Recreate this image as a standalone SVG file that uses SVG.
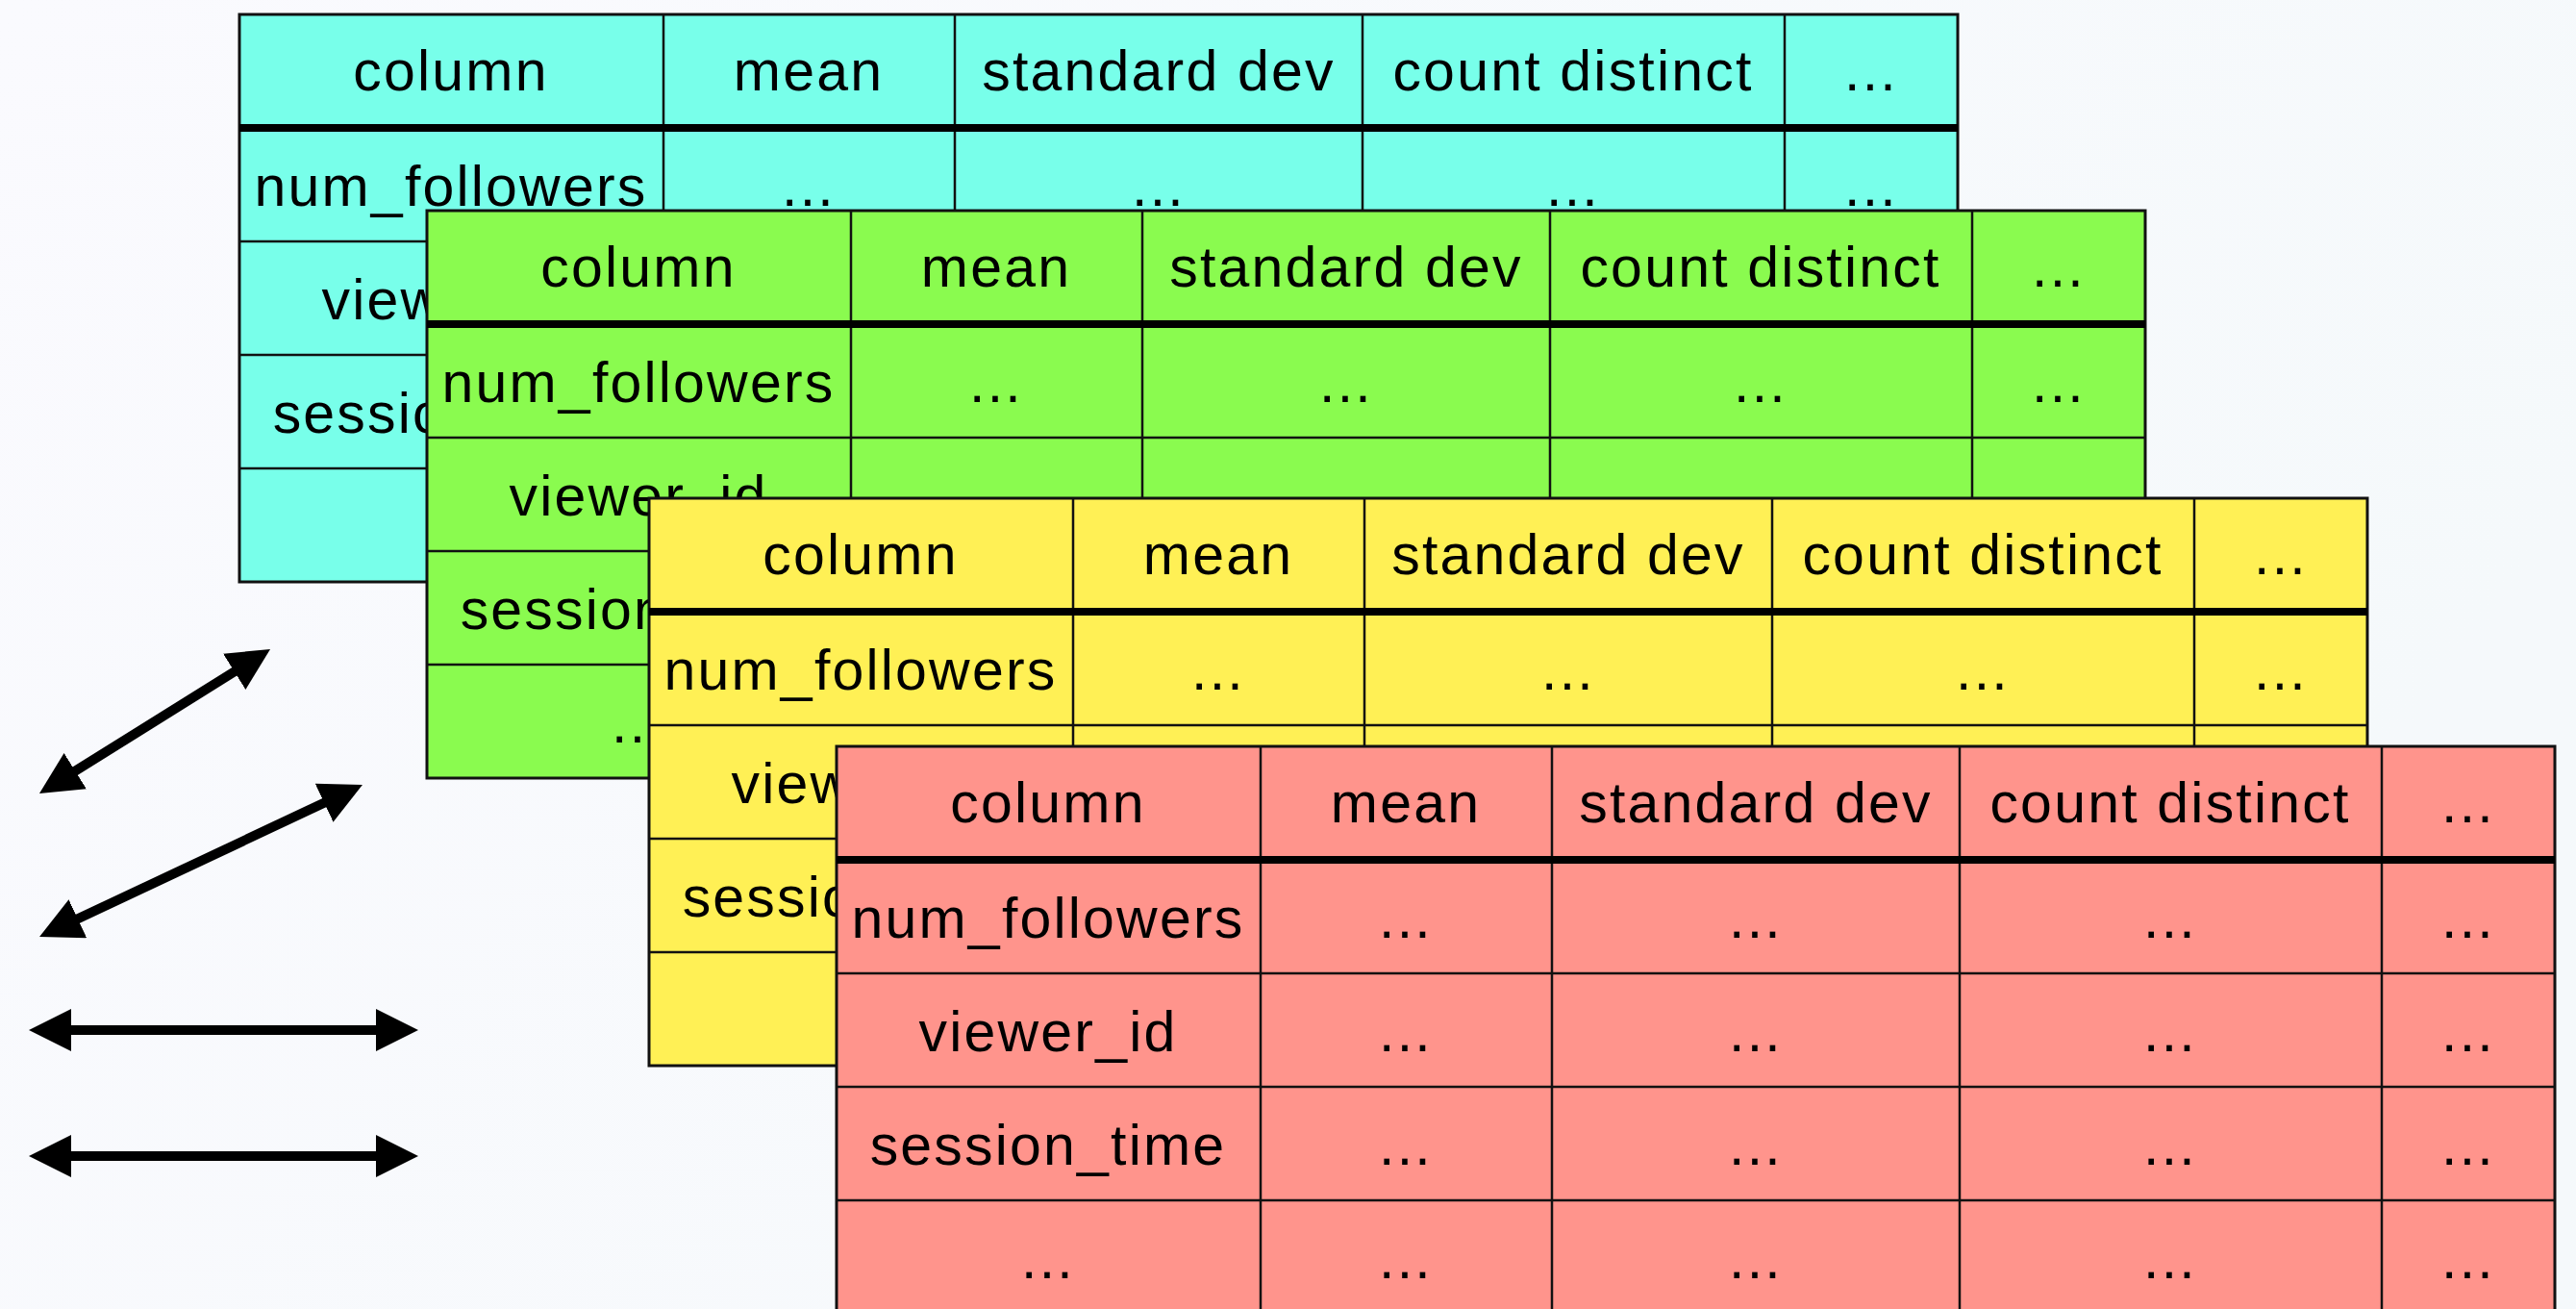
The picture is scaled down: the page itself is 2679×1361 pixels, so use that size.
<svg xmlns="http://www.w3.org/2000/svg" width="2679" height="1361" viewBox="0 0 2679 1361">
  <defs>
    <linearGradient id="bg" x1="0" y1="0" x2="1" y2="0.4">
      <stop offset="0" stop-color="#FAFAFE"/>
      <stop offset="1" stop-color="#F5F9FB"/>
    </linearGradient>
    <marker id="head" viewBox="0 0 44 44" markerUnits="userSpaceOnUse" markerWidth="44" markerHeight="44" refX="14" refY="22" orient="auto-start-reverse">
      <path d="M0 0L44 22L0 44Z" fill="#000"/>
    </marker>
    <style>
      .frame { stroke: #111; stroke-width: 3; }
      .grid { fill: none; stroke: #111; stroke-width: 2.5; }
      .rule { fill: none; stroke: #000; stroke-width: 8; }
      .t1 { fill: #78FFEA; }
      .t2 { fill: #8AFB4F; }
      .t3 { fill: #FFF055; }
      .t4 { fill: #FF948C; }
      text { font-family: "Liberation Sans", Arial, sans-serif; font-size: 59px; letter-spacing: 2.2px; text-anchor: middle; fill: #000; }
      .arrow { fill: none; stroke: #000; stroke-width: 10; marker-start: url(#head); marker-end: url(#head); }
    </style>
  </defs>

  <rect width="2679" height="1361" fill="url(#bg)"/>

  <!-- stats table, cyan (back); cells under the green table are left out -->
  <g id="table-cyan" transform="translate(249,15)">
    <rect class="frame t1" x="0" y="0" width="1787" height="590"/>
    <path class="grid" d="M441 0V590M744 0V590M1168 0V590M1607 0V590M0 236H1787M0 354H1787M0 472H1787"/>
    <path class="rule" d="M0 118H1787"/>
    <text x="220" y="79">column</text><text x="592" y="79">mean</text><text x="956" y="79">standard dev</text><text x="1387" y="79">count distinct</text><text x="1697" y="79">...</text>
    <text x="220" y="199">num_followers</text><text x="592" y="199">...</text><text x="956" y="199">...</text><text x="1387" y="199">...</text><text x="1697" y="199">...</text>
    <text x="220" y="317">viewer_id</text>
    <text x="220" y="435">session_time</text>
  </g>

  <!-- stats table, green -->
  <g id="table-green" transform="translate(444,219)">
    <rect class="frame t2" x="0" y="0" width="1787" height="590"/>
    <path class="grid" d="M441 0V590M744 0V590M1168 0V590M1607 0V590M0 236H1787M0 354H1787M0 472H1787"/>
    <path class="rule" d="M0 118H1787"/>
    <text x="220" y="79">column</text><text x="592" y="79">mean</text><text x="956" y="79">standard dev</text><text x="1387" y="79">count distinct</text><text x="1697" y="79">...</text>
    <text x="220" y="199">num_followers</text><text x="592" y="199">...</text><text x="956" y="199">...</text><text x="1387" y="199">...</text><text x="1697" y="199">...</text>
    <text x="220" y="317">viewer_id</text>
    <text x="220" y="435">session_time</text>
    <text x="220" y="553">...</text>
  </g>

  <!-- stats table, yellow -->
  <g id="table-yellow" transform="translate(675,518)">
    <rect class="frame t3" x="0" y="0" width="1787" height="590"/>
    <path class="grid" d="M441 0V590M744 0V590M1168 0V590M1607 0V590M0 236H1787M0 354H1787M0 472H1787"/>
    <path class="rule" d="M0 118H1787"/>
    <text x="220" y="79">column</text><text x="592" y="79">mean</text><text x="956" y="79">standard dev</text><text x="1387" y="79">count distinct</text><text x="1697" y="79">...</text>
    <text x="220" y="199">num_followers</text><text x="592" y="199">...</text><text x="956" y="199">...</text><text x="1387" y="199">...</text><text x="1697" y="199">...</text>
    <text x="220" y="317">viewer_id</text>
    <text x="220" y="435">session_time</text>
  </g>

  <!-- stats table, red (front) -->
  <g id="table-red" transform="translate(870,776)">
    <rect class="frame t4" x="0" y="0" width="1787" height="590"/>
    <path class="grid" d="M441 0V590M744 0V590M1168 0V590M1607 0V590M0 236H1787M0 354H1787M0 472H1787"/>
    <path class="rule" d="M0 118H1787"/>
    <text x="220" y="79">column</text><text x="592" y="79">mean</text><text x="956" y="79">standard dev</text><text x="1387" y="79">count distinct</text><text x="1697" y="79">...</text>
    <text x="220" y="199">num_followers</text><text x="592" y="199">...</text><text x="956" y="199">...</text><text x="1387" y="199">...</text><text x="1697" y="199">...</text>
    <text x="220" y="317">viewer_id</text><text x="592" y="317">...</text><text x="956" y="317">...</text><text x="1387" y="317">...</text><text x="1697" y="317">...</text>
    <text x="220" y="435">session_time</text><text x="592" y="435">...</text><text x="956" y="435">...</text><text x="1387" y="435">...</text><text x="1697" y="435">...</text>
    <text x="220" y="553">...</text><text x="592" y="553">...</text><text x="956" y="553">...</text><text x="1387" y="553">...</text><text x="1697" y="553">...</text>
  </g>

  <!-- double-headed arrows -->
  <g id="connectors">
    <line class="arrow" x1="66.4" y1="809.1" x2="255.6" y2="690.9"/>
    <line class="arrow" x1="68.2" y1="961.2" x2="349.8" y2="828.8"/>
    <line class="arrow" x1="60" y1="1071" x2="405" y2="1071"/>
    <line class="arrow" x1="60" y1="1202" x2="405" y2="1202"/>
  </g>
</svg>
